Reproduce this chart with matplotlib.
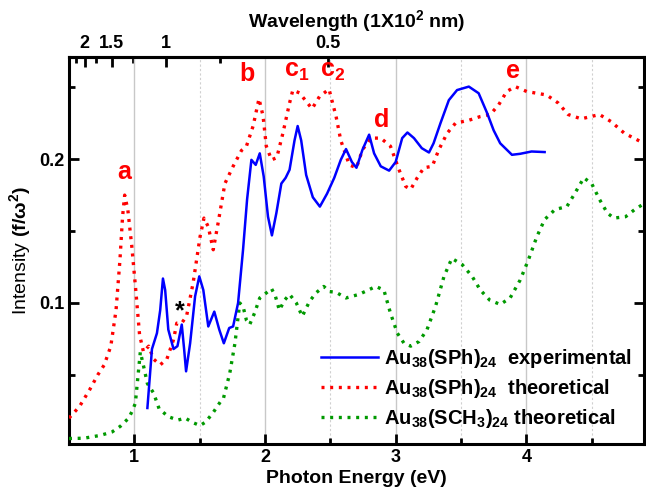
import matplotlib
matplotlib.use("Agg")
import matplotlib.pyplot as plt
from matplotlib.ticker import MultipleLocator, FixedLocator, NullFormatter

plt.rcParams['font.family'] = ['Liberation Sans', 'DejaVu Sans']
plt.rcParams['mathtext.fontset'] = 'custom'
plt.rcParams['mathtext.rm'] = 'Liberation Sans:bold'
plt.rcParams['mathtext.it'] = 'Liberation Sans:bold'
plt.rcParams['mathtext.bf'] = 'Liberation Sans:bold'

# Au38(SPh)24 experimental
exp_e = [1.10, 1.135, 1.173, 1.198, 1.219, 1.236, 1.26, 1.30, 1.33, 1.363, 1.381, 1.396,
         1.427, 1.465, 1.497, 1.528, 1.566, 1.612, 1.65, 1.685, 1.726, 1.756, 1.794, 1.832,
         1.863, 1.896, 1.929, 1.96, 1.99, 2.023, 2.053, 2.087, 2.125, 2.158, 2.188, 2.226,
         2.25, 2.277, 2.315, 2.366, 2.42, 2.475, 2.53, 2.58, 2.62, 2.665, 2.70, 2.746,
         2.797, 2.835, 2.886, 2.95, 3.0, 3.05, 3.09, 3.14, 3.20, 3.255, 3.29, 3.343,
         3.407, 3.47, 3.56, 3.635, 3.70, 3.75, 3.80, 3.89, 3.953, 4.04, 4.14]
exp_i = [0.027, 0.068, 0.079, 0.095, 0.117, 0.109, 0.0815, 0.068, 0.070, 0.085, 0.068, 0.0525,
         0.072, 0.1046, 0.1185, 0.109, 0.0837, 0.094, 0.0815, 0.072, 0.0826, 0.0837, 0.100, 0.137,
         0.172, 0.1995, 0.196, 0.204, 0.188, 0.160, 0.147, 0.1625, 0.183, 0.187, 0.1926, 0.213,
         0.223, 0.213, 0.189, 0.1735, 0.167, 0.176, 0.187, 0.1995, 0.207, 0.198, 0.194, 0.2065,
         0.217, 0.204, 0.195, 0.192, 0.198, 0.2146, 0.2185, 0.2146, 0.2076, 0.2046, 0.211, 0.225,
         0.241, 0.248, 0.2504, 0.2458, 0.232, 0.220, 0.211, 0.203, 0.2037, 0.2053, 0.2049]

# Au38(SPh)24 theoretical
sph_e = [0.50, 0.58, 0.66, 0.72, 0.77, 0.82, 0.86, 0.89, 0.91, 0.926, 0.95, 0.98, 1.01,
         1.04, 1.07, 1.11, 1.147, 1.198, 1.249, 1.30, 1.325, 1.363, 1.40, 1.45, 1.503, 1.533,
         1.566, 1.604, 1.642, 1.693, 1.756, 1.82, 1.858, 1.909, 1.954, 1.985, 2.01, 2.05,
         2.09, 2.137, 2.188, 2.213, 2.264, 2.36, 2.417, 2.49, 2.544, 2.58, 2.645, 2.70, 2.746,
         2.81, 2.886, 2.96, 3.026, 3.077, 3.115, 3.165, 3.216, 3.28, 3.33, 3.394, 3.458, 3.56,
         3.648, 3.724, 3.788, 3.85, 3.915, 4.003, 4.155, 4.244, 4.32, 4.42, 4.56, 4.65, 4.75,
         4.90]
sph_i = [0.020, 0.028, 0.040, 0.050, 0.057, 0.070, 0.095, 0.130, 0.160, 0.175, 0.165, 0.140, 0.110,
         0.078, 0.066, 0.070, 0.061, 0.057, 0.061, 0.0745, 0.086, 0.086, 0.091, 0.114, 0.146, 0.159,
         0.153, 0.137, 0.156, 0.183, 0.195, 0.206, 0.209, 0.223, 0.242, 0.230, 0.209, 0.1995,
         0.201, 0.218, 0.239, 0.248, 0.246, 0.235, 0.2435, 0.2486, 0.2296, 0.213, 0.196, 0.194, 0.2065,
         0.2146, 0.2146, 0.209, 0.1926, 0.181, 0.179, 0.187, 0.194, 0.195, 0.2065, 0.218, 0.225, 0.227,
         0.2296, 0.231, 0.2377, 0.247, 0.2504, 0.247, 0.2446, 0.239, 0.231, 0.228, 0.231, 0.226, 0.218,
         0.211]

# Au38(SCH3)24 theoretical
sch_e = [0.50, 0.614, 0.741, 0.83, 0.893, 0.957, 0.99, 1.008, 1.046, 1.071, 1.10, 1.147, 1.19,
         1.26, 1.333, 1.39, 1.447, 1.503, 1.546, 1.603, 1.66, 1.68, 1.73, 1.77, 1.807, 1.832,
         1.858, 1.883, 1.92, 1.96, 2.01, 2.05, 2.08, 2.11, 2.15, 2.188, 2.24, 2.285, 2.34,
         2.39, 2.45, 2.49, 2.544, 2.62, 2.72, 2.848, 2.91, 2.96, 3.013, 3.064, 3.115, 3.18,
         3.24, 3.305, 3.37, 3.43, 3.51, 3.585, 3.648, 3.72, 3.80, 3.876, 3.953, 4.016, 4.08,
         4.14, 4.22, 4.31, 4.37, 4.44, 4.50, 4.56, 4.62, 4.67, 4.76, 4.83, 4.90]
sch_i = [0.0058, 0.006, 0.008, 0.0104, 0.0143, 0.020, 0.026, 0.0305, 0.066, 0.056, 0.044, 0.0375, 0.0264,
         0.021, 0.0186, 0.020, 0.0169, 0.0148, 0.0173, 0.0238, 0.0315, 0.033, 0.051, 0.072, 0.100, 0.0976,
         0.088, 0.085, 0.093, 0.1035, 0.107, 0.110, 0.1046, 0.095, 0.102, 0.106, 0.100, 0.0907, 0.101,
         0.107, 0.1115, 0.108, 0.1074, 0.1035, 0.106, 0.1115, 0.109, 0.093, 0.079, 0.072, 0.070, 0.0733,
         0.0815, 0.0976, 0.1185, 0.131, 0.1266, 0.1185, 0.109, 0.102, 0.099, 0.1035, 0.116, 0.130, 0.146,
         0.158, 0.165, 0.167, 0.176, 0.187, 0.183, 0.172, 0.1625, 0.159, 0.160, 0.165, 0.169]

peak_labels = ['a', 'b', r'c$_1$', r'c$_2$', 'd', 'e']
peak_e = [0.925, 1.86, 2.24, 2.52, 2.89, 3.90]
peak_i = [0.191, 0.259, 0.261, 0.261, 0.227, 0.261]

fig = plt.figure(figsize=(6.46, 4.92), dpi=100)
ax = fig.add_axes([0.1068, 0.0976, 0.890, 0.7866])

dots = (0, (0.9, 1.7))
ax.plot(exp_e, exp_i, color='#0000ff', lw=1.8, label=r'Au$_{38}$(SPh)$_{24}$  experimental', zorder=4)
ax.plot(sph_e, sph_i, color='#ff0000', lw=2.4, ls=dots, label=r'Au$_{38}$(SPh)$_{24}$  theoretical', zorder=3)
ax.plot(sch_e, sch_i, color='#009900', lw=2.4, ls=dots, label=r'Au$_{38}$(SCH$_3$)$_{24}$ theoretical', zorder=3)

ax.set_xlim(0.5, 4.9)
ax.set_ylim(0.002, 0.271)
ax.xaxis.set_major_locator(MultipleLocator(1))
ax.xaxis.set_minor_locator(MultipleLocator(0.5))
ax.yaxis.set_major_locator(FixedLocator([0.1, 0.2]))
ax.yaxis.set_minor_locator(FixedLocator([0.05, 0.15, 0.25]))
ax.grid(True, which='major', axis='x', color='#c8c8c8', lw=1.0)
ax.grid(True, which='minor', axis='x', color='#d0d0d0', lw=0.8, ls=(0, (2, 2)))
ax.set_axisbelow(True)

for s in ax.spines.values():
    s.set_linewidth(2.2)
ax.tick_params(which='both', direction='in', width=2, right=True, labelsize=13)
ax.tick_params(which='major', length=7)
ax.tick_params(which='minor', length=4)
for lab in ax.get_xticklabels() + ax.get_yticklabels():
    lab.set_fontweight('bold')

ax.set_xlabel('Photon Energy (eV)', fontsize=14, fontweight='bold', labelpad=3)
ax.set_ylabel(r'Intensity $(\mathbf{f/\omega^2})$', fontsize=14, labelpad=4)

top = ax.secondary_xaxis('top', functions=(lambda e: 1.24 / e, lambda l: 1.24 / l))
top.xaxis.set_major_locator(FixedLocator([2, 1.5, 1, 0.5]))
top.xaxis.set_minor_locator(FixedLocator([2.25, 1.75, 1.25, 0.75]))
top.xaxis.set_minor_formatter(NullFormatter())
top.set_xticklabels(['2', '1.5', '1', '0.5'])
top.tick_params(which='both', direction='in', width=2, labelsize=13)
top.tick_params(which='major', length=7)
top.tick_params(which='minor', length=4)
for lab in top.get_xticklabels():
    lab.set_fontweight('bold')
top.spines['top'].set_linewidth(2.2)
top.set_xlabel(r'Wavelength (1X10$^2$ nm)', fontsize=14, fontweight='bold', labelpad=6)

for t, x, y in zip(peak_labels, peak_e, peak_i):
    ax.text(x, y, t, color='#ff0000', fontsize=18, fontweight='bold', ha='center', va='center')
ax.text(1.35, 0.094, '*', color='black', fontsize=18, fontweight='bold', ha='center', va='center')

ax.legend(loc='lower right', frameon=False, prop={'size': 14.5, 'weight': 'bold'},
          handlelength=2.8, handletextpad=0.3, labelspacing=0.35, borderaxespad=0.2,
          bbox_to_anchor=(1.0, 0.005))

fig.savefig('out.png', dpi=100)
